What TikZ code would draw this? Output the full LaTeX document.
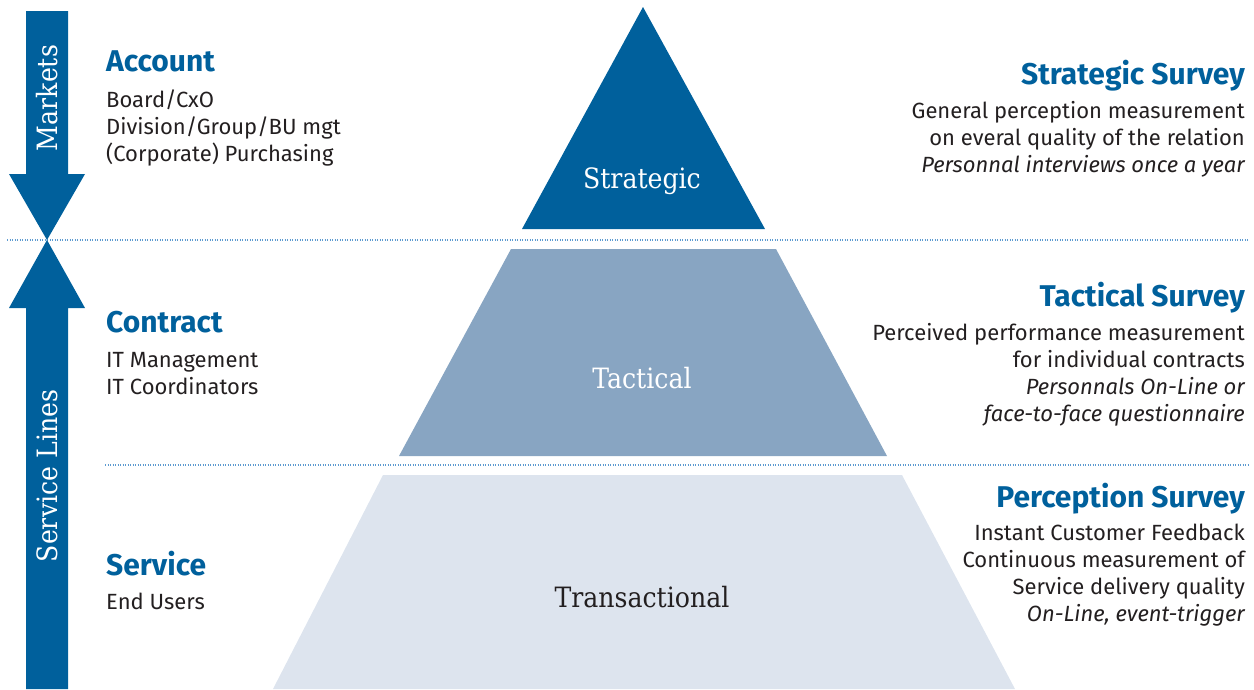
\documentclass[tikz,border=0pt]{standalone}
\usepackage{fontspec}
\setmainfont{Fira Sans}
\newfontfamily\slabfont{DejaVu Serif Condensed}
\definecolor{dblue}{HTML}{00609C}
\definecolor{tblue}{HTML}{88A5C2}
\definecolor{lblue}{HTML}{DDE4EE}
\definecolor{txt}{HTML}{231F20}
\definecolor{dotc}{HTML}{5C9AD0}
\begin{document}
\begin{tikzpicture}[x=1pt,y=-1pt,
 title/.style={font=\fontsize{30}{34}\selectfont\bfseries, text=dblue, inner sep=0pt},
 body/.style={font=\fontsize{22}{27}\selectfont, text=txt, inner sep=0pt},
 ibody/.style={font=\fontsize{22}{27}\selectfont\itshape, text=txt, inner sep=0pt},
 lvl/.style={font=\fontsize{28}{32}\selectfont\slabfont, inner sep=0pt},
 sep/.style={draw=dotc, line width=1.2pt, dash pattern=on 1.2pt off 1.3pt},
]
\useasboundingbox (0,0) rectangle (1254,689);
% separators
\draw[sep] (7,240) -- (1248,240);
\draw[sep] (105,465) -- (1248,465);
% side arrows
\fill[dblue] (26,11) -- (68,11) -- (68,174) -- (85,174) -- (47,240) -- (9,174) -- (26,174) -- cycle;
\fill[dblue] (47,240) -- (85,308) -- (68,308) -- (68,689) -- (26,689) -- (26,308) -- (9,308) -- cycle;
\node[lvl, text=white, rotate=90] (markets) at (47,98) {Markets};
\node[lvl, text=white, rotate=90] (servlines) at (47,476) {Service Lines};
% pyramid
\fill[dblue] (643,7) -- (765,229) -- (522,229) -- cycle;
\fill[tblue] (511,249) -- (776,249) -- (887,456) -- (399,456) -- cycle;
\fill[lblue] (383,475) -- (902,475) -- (1015,689) -- (273,689) -- cycle;
\node[lvl, text=white, anchor=base] (strat) at (642,188) {Strategic};
\node[lvl, text=white, anchor=base] (tact) at (642,388) {Tactical};
\node[lvl, text=txt, anchor=base] (trans) at (642,607) {Transactional};
% left texts
\node[title, anchor=base west] (acc) at (106,71) {Account};
\node[body, anchor=base west] (acc1) at (106,107) {Board/CxO};
\node[body, anchor=base west] (acc2) at (106,134) {Division/Group/BU mgt};
\node[body, anchor=base west] (acc3) at (106,161) {(Corporate) Purchasing};
\node[title, anchor=base west] (con) at (106,332) {Contract};
\node[body, anchor=base west] (con1) at (106,367) {IT Management};
\node[body, anchor=base west] (con2) at (106,394) {IT Coordinators};
\node[title, anchor=base west] (ser) at (106,575) {Service};
\node[body, anchor=base west] (ser1) at (106,609) {End Users};
% right texts
\node[title, anchor=base east] (ss) at (1245,84) {Strategic Survey};
\node[body, anchor=base east] (ss1) at (1245,118) {General perception measurement};
\node[body, anchor=base east] (ss2) at (1245,145) {on everal quality of the relation};
\node[ibody, anchor=base east] (ss3) at (1245,172) {Personnal interviews once a year};
\node[title, anchor=base east] (ts) at (1245,306) {Tactical Survey};
\node[body, anchor=base east] (ts1) at (1245,340) {Perceived performance measurement};
\node[body, anchor=base east] (ts2) at (1245,367) {for individual contracts};
\node[ibody, anchor=base east] (ts3) at (1245,394) {Personnals On-Line or};
\node[ibody, anchor=base east] (ts4) at (1245,421) {face-to-face questionnaire};
\node[title, anchor=base east] (ps) at (1245,507) {Perception Survey};
\node[body, anchor=base east] (ps1) at (1245,540) {Instant Customer Feedback};
\node[body, anchor=base east] (ps2) at (1245,567) {Continuous measurement of};
\node[body, anchor=base east] (ps3) at (1245,594) {Service delivery quality};
\node[ibody, anchor=base east] (ps4) at (1245,621) {On-Line, event-trigger};
\end{tikzpicture}
\end{document}
